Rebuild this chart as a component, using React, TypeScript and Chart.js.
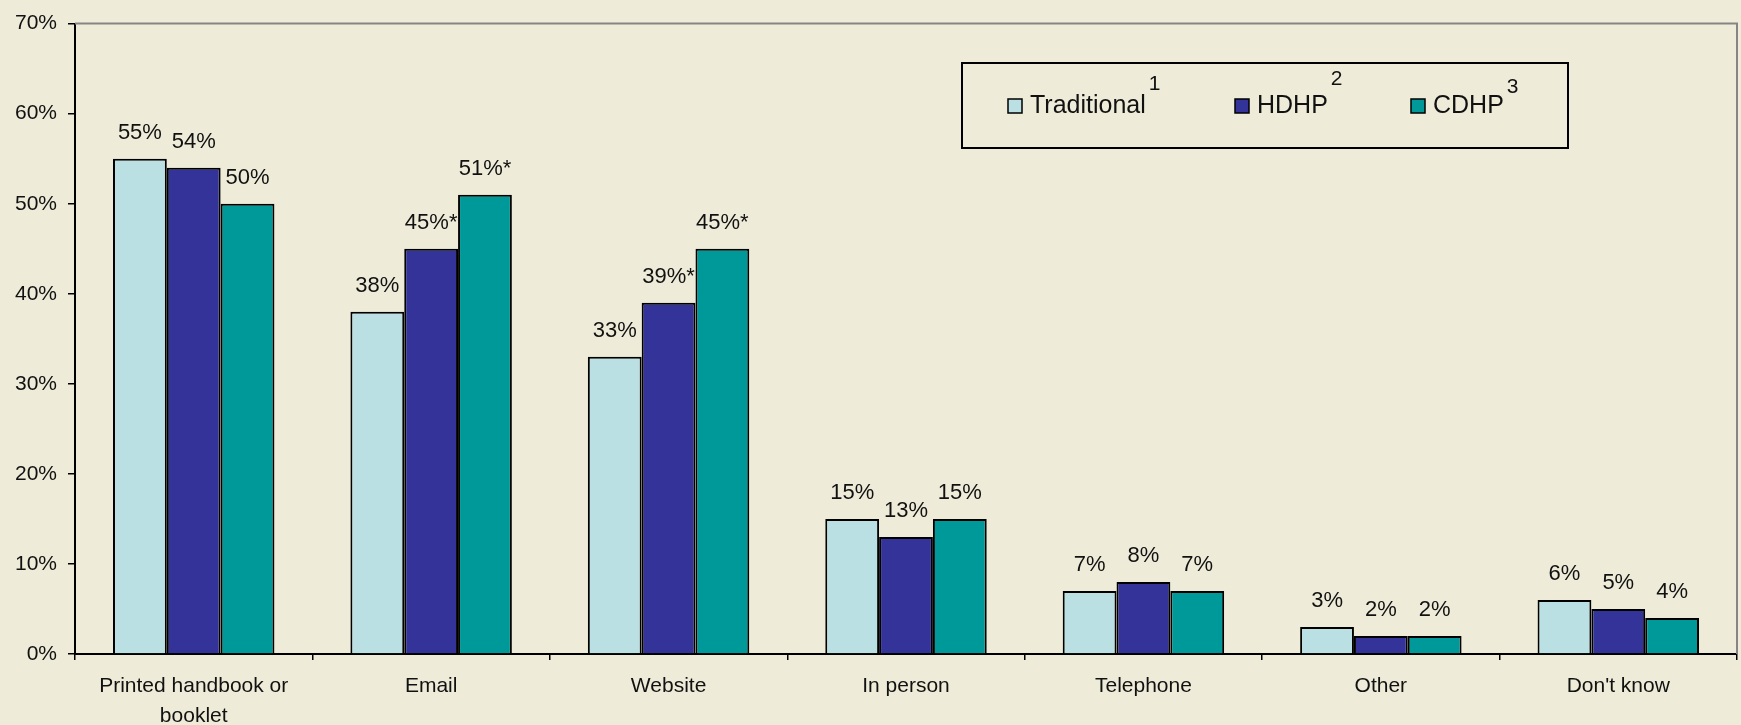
import React, { useEffect, useRef } from "react";
import { Chart, registerables } from "chart.js";

Chart.register(...registerables);

const categories: (string | string[])[] = [
  ["Printed handbook or", "booklet"],
  "Email",
  "Website",
  "In person",
  "Telephone",
  "Other",
  "Don't know",
];
const seriesNames = ["Traditional", "HDHP", "CDHP"];
const seriesNotes = ["1", "2", "3"];
const traditional = [55, 38, 33, 15, 7, 3, 6];
const hdhp = [54, 45, 39, 13, 8, 2, 5];
const cdhp = [50, 51, 45, 15, 7, 2, 4];
const traditionalMarks = ["", "", "", "", "", "", ""];
const hdhpMarks = ["", "*", "*", "", "", "", ""];
const cdhpMarks = ["", "*", "*", "", "", "", ""];
const yTicks = [0, 10, 20, 30, 40, 50, 60, 70];

const colors = ["#BBE0E3", "#333399", "#009999"];
const FONT = "'Liberation Sans', Arial, sans-serif";
const BG = "#EEECD9";

const markSets = [traditionalMarks, hdhpMarks, cdhpMarks];

const framePlugin = {
  id: "frame",
  beforeDatasetsDraw(chart: any) {
    const { ctx, chartArea } = chart;
    ctx.save();
    ctx.strokeStyle = "#858585";
    ctx.lineWidth = 2;
    ctx.beginPath();
    ctx.moveTo(chartArea.left, chartArea.top);
    ctx.lineTo(chartArea.right, chartArea.top);
    ctx.lineTo(chartArea.right, chartArea.bottom);
    ctx.stroke();
    ctx.restore();
  },
};

const labelPlugin = {
  id: "valueLabels",
  afterDatasetsDraw(chart: any) {
    const { ctx } = chart;
    ctx.save();
    ctx.font = `22px ${FONT}`;
    ctx.fillStyle = "#111";
    ctx.textAlign = "center";
    ctx.textBaseline = "middle";
    chart.data.datasets.forEach((ds: any, di: number) => {
      const meta = chart.getDatasetMeta(di);
      meta.data.forEach((el: any, i: number) => {
        const txt = `${ds.data[i]}%${markSets[di][i]}`;
        ctx.fillText(txt, el.x, el.y - 26);
      });
    });
    ctx.restore();
  },
};

const legendPlugin = {
  id: "customLegend",
  afterDraw(chart: any) {
    const { ctx } = chart;
    ctx.save();
    ctx.fillStyle = BG;
    ctx.fillRect(962, 63, 606, 85);
    ctx.strokeStyle = "#000";
    ctx.lineWidth = 2;
    ctx.strokeRect(962, 63, 606, 85);
    const swatchX = [1008, 1235, 1411];
    const noteDy = [-22, -27, -19];
    const cy = 106;
    chart.data.datasets.forEach((ds: any, i: number) => {
      ctx.fillStyle = ds.backgroundColor;
      ctx.fillRect(swatchX[i], cy - 7, 14, 14);
      ctx.strokeStyle = "#000";
      ctx.lineWidth = 1.5;
      ctx.strokeRect(swatchX[i], cy - 7, 14, 14);
      ctx.fillStyle = "#111";
      ctx.font = `25px ${FONT}`;
      ctx.textAlign = "left";
      ctx.textBaseline = "middle";
      const tx = swatchX[i] + 22;
      ctx.fillText(ds.label, tx, cy);
      const w = ctx.measureText(ds.label).width;
      ctx.font = `21px ${FONT}`;
      ctx.fillText(seriesNotes[i], tx + w + 3, cy + noteDy[i]);
    });
    ctx.restore();
  },
};

export default function App() {
  const ref = useRef<HTMLCanvasElement>(null);

  useEffect(() => {
    document.body.style.margin = "0";
    const canvas = ref.current!;
    const seriesData = [traditional, hdhp, cdhp];
    const chart = new Chart(canvas, {
      type: "bar",
      data: {
        labels: categories,
        datasets: seriesNames.map((name, i) => ({
          label: name,
          data: seriesData[i],
          backgroundColor: colors[i],
          borderColor: "#000",
          borderWidth: 2,
          categoryPercentage: 0.68,
          barPercentage: 1.0,
        })),
      },
      options: {
        responsive: false,
        animation: false,
        devicePixelRatio: 1,
        layout: { padding: { top: 19, right: 4, left: 0, bottom: 0 } },
        plugins: {
          legend: { display: false },
          tooltip: { enabled: false },
        },
        scales: {
          x: {
            grid: {
              offset: true,
              drawOnChartArea: false,
              drawTicks: true,
              tickLength: 6,
              color: "#000",
              lineWidth: 1.5,
            },
            border: { color: "#000", width: 2 },
            ticks: {
              color: "#111",
              font: { family: FONT, size: 21, lineHeight: 1.45 },
              maxRotation: 0,
              minRotation: 0,
              autoSkip: false,
              padding: 11,
            },
            afterFit: (s: any) => {
              s.height = 71;
            },
          },
          y: {
            min: 0,
            max: 70,
            afterBuildTicks: (s: any) => {
              s.ticks = yTicks.map((v) => ({ value: v }));
            },
            grid: {
              drawOnChartArea: false,
              drawTicks: true,
              tickLength: 7,
              color: "#000",
              lineWidth: 1.5,
            },
            border: { color: "#000", width: 2 },
            ticks: {
              color: "#111",
              font: { family: FONT, size: 21 },
              padding: 11,
              callback: (v: any) => `${v}%`,
            },
            afterFit: (s: any) => {
              s.width = 75;
            },
          },
        },
      },
      plugins: [framePlugin, labelPlugin, legendPlugin],
    });
    return () => chart.destroy();
  }, []);

  return (
    <div style={{ width: 1741, height: 725, background: BG }}>
      <canvas ref={ref} width={1741} height={725} style={{ display: "block" }} />
    </div>
  );
}
